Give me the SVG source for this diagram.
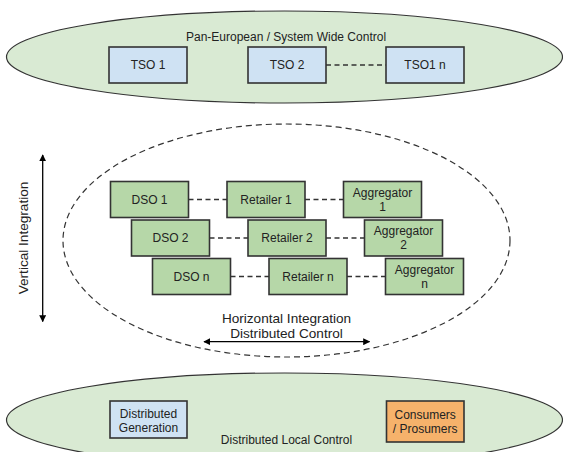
<svg xmlns="http://www.w3.org/2000/svg" width="563" height="452" viewBox="0 0 563 452">
  <defs>
    <marker id="arrow" viewBox="0 0 10 10" refX="9" refY="5" markerWidth="7" markerHeight="7" markerUnits="userSpaceOnUse" orient="auto-start-reverse">
      <path d="M0,0 L10,5 L0,10 z" fill="#000"/>
    </marker>
    <style>
      text { font-family: "Liberation Sans", Arial, sans-serif; fill: #222; }
      .lbl { font-size: 12px; text-anchor: middle; }
      .big { font-size: 13.6px; text-anchor: middle; }
      .zone { fill: #d9ead3; stroke: #333; stroke-width: 1.2; }
      .blue { fill: #cfe2f3; stroke: #333; stroke-width: 1.6; }
      .green { fill: #b6d7a8; stroke: #333; stroke-width: 1.6; }
      .orange { fill: #f6b26b; stroke: #333; stroke-width: 1.6; }
      .dash { fill: none; stroke: #333; stroke-width: 1.3; stroke-dasharray: 5 3.5; }
      .ring { fill: none; stroke: #333; stroke-width: 1.2; stroke-dasharray: 6 4; }
      .axis { fill: none; stroke: #000; stroke-width: 1.3; marker-start: url(#arrow); marker-end: url(#arrow); }
    </style>
  </defs>

  <!-- system-wide zone -->
  <g id="zone-system">
    <ellipse class="zone" cx="284.5" cy="57" rx="278" ry="46"/>
    <text class="lbl" x="286" y="41">Pan-European / System Wide Control</text>
  </g>

  <!-- local zone -->
  <g id="zone-local">
    <ellipse class="zone" cx="284.5" cy="420" rx="278" ry="47"/>
    <text class="lbl" x="286.5" y="443.5">Distributed Local Control</text>
  </g>

  <!-- distribution zone -->
  <g id="zone-distributed">
    <ellipse class="ring" cx="286.5" cy="240.5" rx="223.5" ry="116.5"/>
    <text class="big" x="286.5" y="322.5">Horizontal Integration</text>
    <text class="big" x="286.5" y="338">Distributed Control</text>
  </g>

  <g id="vertical-label">
    <text class="big" transform="translate(27.5,238) rotate(-90)">Vertical Integration</text>
  </g>

  <!-- connectors -->
  <g id="connectors">
    <line class="dash" x1="326" y1="65" x2="386" y2="65"/>
    <line class="dash" x1="188.5" y1="199.5" x2="227" y2="199.5"/>
    <line class="dash" x1="305" y1="199.5" x2="343.5" y2="199.5"/>
    <line class="dash" x1="209.5" y1="238" x2="248" y2="238"/>
    <line class="dash" x1="326" y1="238" x2="364.5" y2="238"/>
    <line class="dash" x1="230.5" y1="276.5" x2="269" y2="276.5"/>
    <line class="dash" x1="347" y1="276.5" x2="385.5" y2="276.5"/>
    <line class="axis" x1="42.7" y1="155" x2="42.7" y2="321.5"/>
    <line class="axis" x1="204" y1="341.7" x2="369.5" y2="341.7"/>
  </g>

  <!-- transmission operators -->
  <g id="tso1">
    <rect class="blue" x="109" y="47" width="78" height="36"/>
    <text class="lbl" x="148" y="69.3">TSO 1</text>
  </g>
  <g id="tso2">
    <rect class="blue" x="248" y="47" width="78" height="36"/>
    <text class="lbl" x="287" y="69.3">TSO 2</text>
  </g>
  <g id="tso1n">
    <rect class="blue" x="386" y="47" width="78" height="36"/>
    <text class="lbl" x="425" y="69.3">TSO1 n</text>
  </g>

  <!-- row 1 -->
  <g id="dso1">
    <rect class="green" x="110.5" y="181.5" width="78" height="36"/>
    <text class="lbl" x="149.5" y="203.8">DSO 1</text>
  </g>
  <g id="retailer1">
    <rect class="green" x="227" y="181.5" width="78" height="36"/>
    <text class="lbl" x="266" y="203.8">Retailer 1</text>
  </g>
  <g id="aggregator1">
    <rect class="green" x="343.5" y="181.5" width="78" height="36"/>
    <text class="lbl" x="382.5" y="196.5">Aggregator</text>
    <text class="lbl" x="382.5" y="210.5">1</text>
  </g>

  <!-- row 2 -->
  <g id="dso2">
    <rect class="green" x="131.5" y="220" width="78" height="36"/>
    <text class="lbl" x="170.5" y="242.3">DSO 2</text>
  </g>
  <g id="retailer2">
    <rect class="green" x="248" y="220" width="78" height="36"/>
    <text class="lbl" x="287" y="242.3">Retailer 2</text>
  </g>
  <g id="aggregator2">
    <rect class="green" x="364.5" y="220" width="78" height="36"/>
    <text class="lbl" x="403.5" y="235">Aggregator</text>
    <text class="lbl" x="403.5" y="249">2</text>
  </g>

  <!-- row 3 -->
  <g id="dson">
    <rect class="green" x="152.5" y="258.5" width="78" height="36"/>
    <text class="lbl" x="191.5" y="280.8">DSO n</text>
  </g>
  <g id="retailern">
    <rect class="green" x="269" y="258.5" width="78" height="36"/>
    <text class="lbl" x="308" y="280.8">Retailer n</text>
  </g>
  <g id="aggregatorn">
    <rect class="green" x="385.5" y="258.5" width="78" height="36"/>
    <text class="lbl" x="424.5" y="273.5">Aggregator</text>
    <text class="lbl" x="424.5" y="287.5">n</text>
  </g>

  <!-- local actors -->
  <g id="distributed-generation">
    <rect class="blue" x="110" y="401" width="77" height="37"/>
    <text class="lbl" x="148.5" y="417.5">Distributed</text>
    <text class="lbl" x="148.5" y="431.5">Generation</text>
  </g>
  <g id="consumers">
    <rect class="orange" x="386.5" y="401" width="77.5" height="41"/>
    <text class="lbl" x="425.2" y="419.3">Consumers</text>
    <text class="lbl" x="425.2" y="433.3">/ Prosumers</text>
  </g>
</svg>
